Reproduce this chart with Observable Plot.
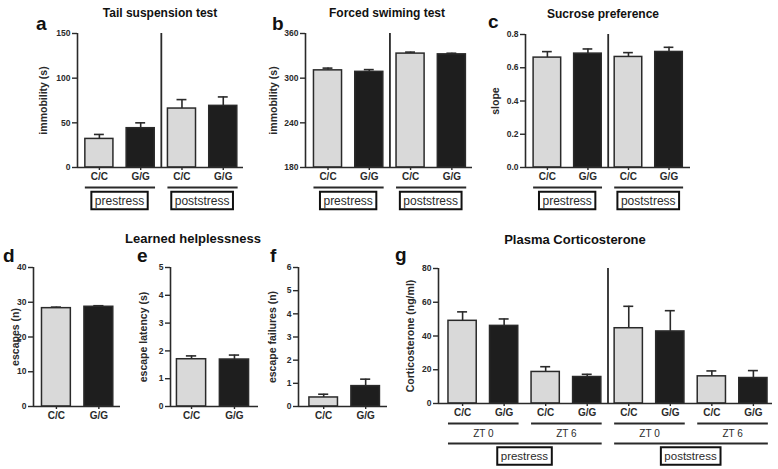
<!DOCTYPE html>
<html>
<head>
<meta charset="utf-8">
<script src="https://cdn.jsdelivr.net/npm/d3@7"></script>
<script src="https://cdn.jsdelivr.net/npm/@observablehq/plot@0.6"></script>
<style>
  body { margin: 0; background: #fff; }
  #fig { position: relative; width: 778px; height: 469px; overflow: hidden; background: #fff; }
  #fig svg { position: absolute; max-width: none; }
</style>
</head>
<body>
<div id="fig"></div>
<script>
// ---------------- data ----------------
const genotypeFill = { "C/C": "#d9d9d9", "G/G": "#1e1e1e" };
const stressCats = ["C/C", "G/G", "C/C", "G/G"];
const stressGroups = ["prestress", "poststress"];

const tailMean = [32, 44, 66, 69];
const tailErr  = [5, 6, 10, 10];
const tailTicks = [0, 50, 100, 150];

const swimMean = [310.5, 308.5, 333, 332];
const swimErr  = [3, 3, 2, 1.5];
const swimTicks = [180, 240, 300, 360];

const sucroseMean = [0.661, 0.685, 0.665, 0.695];
const sucroseErr  = [0.036, 0.028, 0.026, 0.028];
const sucroseTicks = [0, 0.2, 0.4, 0.6, 0.8];

const lhCats = ["C/C", "G/G"];
const escapesMean = [28.3, 28.7];
const escapesErr  = [0.3, 0.3];
const escapesTicks = [0, 10, 20, 30, 40];
const latencyMean = [1.70, 1.69];
const latencyErr  = [0.12, 0.16];
const latencyTicks = [0, 1, 2, 3, 4, 5];
const failuresMean = [0.39, 0.88];
const failuresErr  = [0.14, 0.30];
const failuresTicks = [0, 1, 2, 3, 4, 5, 6];

const corticoCats = ["C/C", "G/G", "C/C", "G/G", "C/C", "G/G", "C/C", "G/G"];
const corticoTimes = ["ZT 0", "ZT 6", "ZT 0", "ZT 6"];
const corticoMean = [49, 46, 18.7, 15.7, 44.6, 42.7, 16.1, 15.1];
const corticoErr  = [5.3, 4.1, 3.1, 1.6, 13, 12.3, 3.2, 4.4];
const corticoTicks = [0, 20, 40, 60, 80];

// ---------------- style ----------------
const INK = "#2a2a2a";
const FONT = '"Liberation Sans", Arial, Helvetica, sans-serif';
const fig = document.getElementById("fig");

function panel(cfg) {
  const ml = 60, mr = 12, mt = 10, mb = 70;
  const { L, R, T, B, xd, yd, ticks, fmt, cats, mean, err, label, labelOffset, divider, levels } = cfg;
  const width = R - L + ml + mr, height = B - T + mt + mb;
  const data = cats.map((c, i) => ({ i, c, v: mean[i], e: err[i] }));
  const y0 = yd[0];
  const marks = [
    Plot.ruleX(data, { x: "i", y1: "v", y2: d => d.v + d.e, stroke: INK, strokeWidth: 1.6 }),
    Plot.ruleY(data, { y: d => d.v + d.e, x1: d => d.i - 0.12, x2: d => d.i + 0.12, stroke: INK, strokeWidth: 1.6 }),
    Plot.rect(data, { x1: d => d.i - 0.34, x2: d => d.i + 0.34, y1: y0, y2: "v",
      fill: d => genotypeFill[d.c], stroke: INK, strokeWidth: 1.5 }),
    Plot.ruleX([xd[0]], { y1: yd[0], y2: yd[1], stroke: INK, strokeWidth: 1.6 }),
    Plot.ruleY([y0], { stroke: INK, strokeWidth: 1.6 }),
    Plot.axisY({ ticks, tickFormat: fmt, tickSize: 5, tickPadding: 2, label: null, stroke: INK, strokeWidth: 1.4, fontSize: 8.5 }),
    Plot.axisX({ ticks: data.map(d => d.i), tickFormat: i => cats[i], tickSize: 3, tickPadding: 2.5, label: null, stroke: INK, strokeWidth: 1.4, fontSize: 10 }),
    Plot.text([label], { frameAnchor: "left", textAnchor: "middle", rotate: -90, dx: -labelOffset, fontSize: 10.5, fontWeight: "bold", fill: INK })
  ];
  if (divider) marks.push(Plot.ruleX([(cats.length - 1) / 2], { y1: yd[0], y2: yd[1], stroke: INK, strokeWidth: 1.8 }));
  const boxes = [];
  (levels || []).forEach(lv => {
    const size = cats.length / lv.labels.length;
    const groups = lv.labels.map((lab, k) => ({ lab, a: k * size, b: (k + 1) * size - 1 }));
    marks.push(Plot.ruleY(groups, { y: y0, x1: d => d.a - 0.34, x2: d => d.b + 0.36, dy: lv.line, stroke: INK, strokeWidth: 1.8 }));
    if (lv.box) groups.forEach(g => boxes.push({ ...g, dy: lv.text, fs: lv.fs }));
    else marks.push(Plot.text(groups, { x: d => (d.a + d.b) / 2, y: y0, text: "lab", dy: lv.text, fontSize: lv.fs, fontWeight: "normal", fill: INK }));
  });
  const svg = Plot.plot({
    width, height, marginLeft: ml, marginRight: mr, marginTop: mt, marginBottom: mb,
    x: { domain: xd },
    y: { domain: yd },
    style: { background: "transparent", overflow: "visible", fontFamily: FONT, fontWeight: "bold", color: INK, fontSize: "8.5px" },
    marks
  });
  svg.style.left = (L - ml) + "px";
  svg.style.top = (T - mt) + "px";
  fig.appendChild(svg);
  // boxed group labels (drawn after the plot is in the DOM so the text can be measured)
  const xs = v => ml + (v - xd[0]) / (xd[1] - xd[0]) * (R - L);
  const base = mt + (B - T);
  const gsel = d3.select(svg).append("g");
  boxes.forEach(b => {
    const cx = xs((b.a + b.b) / 2), cy = base + b.dy;
    const t = gsel.append("text").attr("x", cx).attr("y", cy).attr("text-anchor", "middle")
      .attr("dy", "0.35em").attr("font-size", b.fs).attr("font-weight", "normal")
      .attr("font-family", FONT).attr("fill", INK).text(b.lab);
    const bb = t.node().getBBox();
    const h = 17.5;
    gsel.insert("rect", "text").attr("x", bb.x - 3.5).attr("y", cy - h / 2)
      .attr("width", bb.width + 7).attr("height", h)
      .attr("fill", "#fff").attr("stroke", "#111").attr("stroke-width", 2);
  });
}

const f1 = d3.format(".1f");
const stressLevels = [{ labels: stressGroups, line: 20, text: 33.5, box: true, fs: 12 }];

panel({ L: 77, R: 243, T: 33, B: 167, xd: [-0.53, 3.49], yd: [0, 150], ticks: tailTicks, fmt: d => d,
  cats: stressCats, mean: tailMean, err: tailErr, label: "immobility (s)", labelOffset: 34, divider: true, levels: stressLevels });
panel({ L: 305, R: 472, T: 33, B: 167, xd: [-0.545, 3.5], yd: [180, 360], ticks: swimTicks, fmt: d => d,
  cats: stressCats, mean: swimMean, err: swimErr, label: "immobility (s)", labelOffset: 32, divider: true, levels: stressLevels });
panel({ L: 525, R: 690, T: 34, B: 167, xd: [-0.54, 3.53], yd: [0, 0.8], ticks: sucroseTicks, fmt: f1,
  cats: stressCats, mean: sucroseMean, err: sucroseErr, label: "slope", labelOffset: 30, divider: true, levels: stressLevels });
panel({ L: 33, R: 120, T: 267, B: 406, xd: [-0.54, 1.51], yd: [0, 40], ticks: escapesTicks, fmt: d => d,
  cats: lhCats, mean: escapesMean, err: escapesErr, label: "escapes (n)", labelOffset: 18 });
panel({ L: 170, R: 258, T: 267, B: 406, xd: [-0.49, 1.56], yd: [0, 5], ticks: latencyTicks, fmt: d => d,
  cats: lhCats, mean: latencyMean, err: latencyErr, label: "escape latency (s)", labelOffset: 27 });
panel({ L: 298, R: 387, T: 267, B: 406, xd: [-0.6, 1.52], yd: [0, 6], ticks: failuresTicks, fmt: d => d,
  cats: lhCats, mean: failuresMean, err: failuresErr, label: "escape failures (n)", labelOffset: 26 });
panel({ L: 438, R: 772, T: 268, B: 403, xd: [-0.58, 7.46], yd: [0, 80], ticks: corticoTicks, fmt: d => d,
  cats: corticoCats, mean: corticoMean, err: corticoErr, label: "Corticosterone (ng/ml)", labelOffset: 28, divider: true,
  levels: [
    { labels: corticoTimes, line: 20, text: 30, box: false, fs: 10 },
    { labels: stressGroups, line: 40, text: 53, box: true, fs: 11.5 }
  ] });

// ---------------- titles and panel letters ----------------
const titles = [
  { text: "Tail suspension test", x: 160, y: 13, fs: 12 },
  { text: "Forced swiming test", x: 387, y: 13, fs: 12 },
  { text: "Sucrose preference", x: 603, y: 14, fs: 12 },
  { text: "Learned helplessness", x: 193, y: 238, fs: 13 },
  { text: "Plasma Corticosterone", x: 575, y: 239, fs: 13 }
];
const letters = [
  { text: "a", x: 36, y: 30 }, { text: "b", x: 272, y: 30 }, { text: "c", x: 488, y: 28 },
  { text: "d", x: 3, y: 262 }, { text: "e", x: 137, y: 262 }, { text: "f", x: 270, y: 262 }, { text: "g", x: 395, y: 261 }
];
const over = d3.select(fig).append("svg").attr("width", 778).attr("height", 469)
  .style("left", "0px").style("top", "0px").style("pointer-events", "none")
  .attr("font-family", FONT).attr("font-weight", "bold").attr("fill", "#111");
over.selectAll("text.title").data(titles).join("text").attr("class", "title")
  .attr("x", d => d.x).attr("y", d => d.y).attr("dy", "0.35em").attr("text-anchor", "middle")
  .attr("font-size", d => d.fs).text(d => d.text);
over.selectAll("text.letter").data(letters).join("text").attr("class", "letter")
  .attr("x", d => d.x).attr("y", d => d.y).attr("font-size", 19).text(d => d.text);
</script>
</body>
</html>
